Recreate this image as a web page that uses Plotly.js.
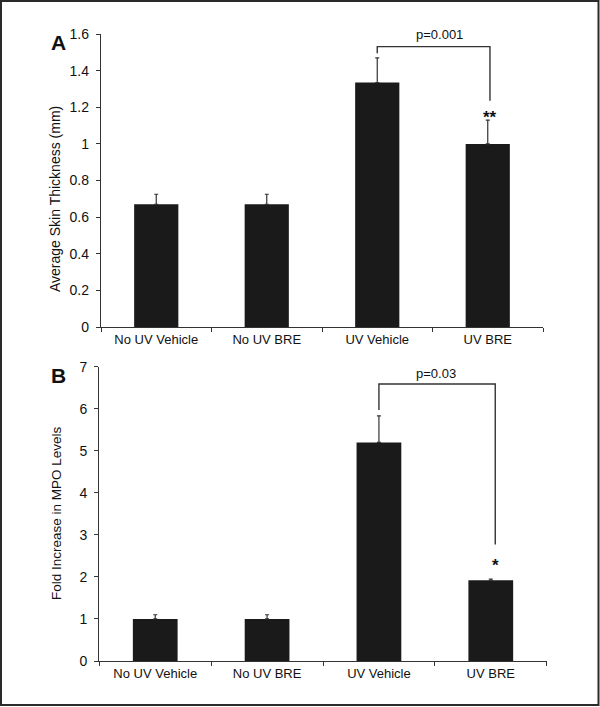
<!DOCTYPE html>
<html>
<head>
<meta charset="utf-8">
<script src="https://cdn.plot.ly/plotly-3.0.1.min.js"></script>
<style>html,body{margin:0;padding:0;background:#fff;}#chart{width:600px;height:707px;}</style>
</head>
<body>
<div id="chart"></div>
<script>
// Data
const categories = ["No UV Vehicle", "No UV BRE", "UV Vehicle", "UV BRE"];
const thicknessMeans = [0.67, 0.67, 1.335, 1.0];
const thicknessErr = [0.055, 0.055, 0.135, 0.13];
const mpoMeans = [1.0, 1.0, 5.2, 1.92];
const mpoErr = [0.1, 0.1, 0.63, 0.03];
const thicknessTicks = [0, 0.2, 0.4, 0.6, 0.8, 1, 1.2, 1.4, 1.6];
const mpoTicks = [0, 1, 2, 3, 4, 5, 6, 7];
const thicknessTitle = "Average Skin Thickness (mm)";
const mpoTitle = "Fold Increase in MPO Levels";

const W = 600, H = 707;
const px = v => v / W;
const py = v => 1 - v / H;

const FONT = "Liberation Sans, Arial, sans-serif";
const INK = "#1a1a1a";
const LINE = "#333";

function barTrace(y, err, xa, ya) {
  return {
    type: "bar", x: categories, y: y, xaxis: xa, yaxis: ya,
    width: 0.4,
    marker: {color: INK, line: {width: 0}},
    error_y: {type: "data", symmetric: false, array: err, arrayminus: err.map(() => 0),
              color: LINE, thickness: 1.2, width: 2},
    hoverinfo: "skip", showlegend: false
  };
}

const data = [
  barTrace(thicknessMeans, thicknessErr, "x", "y"),
  barTrace(mpoMeans, mpoErr, "x2", "y2")
];

function xAxis(domain, anchor) {
  return {
    domain: domain, anchor: anchor, type: "category", range: [-0.5, 3.5],
    showline: true, linecolor: LINE, linewidth: 1.2,
    ticks: "outside", tickson: "boundaries", ticklen: 4, tickcolor: LINE,
    tickfont: {family: FONT, size: 13, color: "#111"},
    showgrid: false, zeroline: false, fixedrange: true
  };
}
function yAxis(domain, anchor, range, ticks) {
  return {
    domain: domain, anchor: anchor, range: range,
    tickvals: ticks, ticktext: ticks.map(String),
    showline: true, linecolor: LINE, linewidth: 1.2,
    ticks: "outside", ticklen: 4, tickcolor: LINE,
    ticklabelstandoff: 4,
    tickfont: {family: FONT, size: 14, color: "#111"},
    showgrid: false, zeroline: false, fixedrange: true
  };
}

const layout = {
  width: W, height: H,
  margin: {l: 0, r: 0, t: 0, b: 0},
  paper_bgcolor: "#fff", plot_bgcolor: "#fff",
  font: {family: FONT, color: "#111"},
  xaxis: xAxis([px(101), px(543)], "y"),
  yaxis: yAxis([py(327), py(34)], "x", [0, 1.6], thicknessTicks),
  xaxis2: xAxis([px(99.3), px(546.7)], "y2"),
  yaxis2: yAxis([py(661), py(366.7)], "x2", [0, 7], mpoTicks),
  shapes: [
    {type: "rect", xref: "paper", yref: "paper", x0: px(1), x1: px(598.5), y0: py(705), y1: py(1),
     line: {color: "#2a2a2a", width: 2}},
    {type: "path", xref: "x", yref: "y", path: "M 2,1.495 L 2,1.531 L 3.02,1.531 L 3.02,1.236",
     line: {color: LINE, width: 1.4}},
    {type: "path", xref: "x2", yref: "y2", path: "M 2,5.97 L 2,6.59 L 3.04,6.59 L 3.04,2.77",
     line: {color: LINE, width: 1.4}}
  ],
  annotations: [
    {xref: "paper", yref: "paper", x: px(55), y: py(199), text: thicknessTitle, textangle: -90,
     showarrow: false, font: {family: FONT, size: 14, color: "#111"}, xanchor: "center", yanchor: "middle"},
    {xref: "paper", yref: "paper", x: px(56), y: py(513), text: mpoTitle, textangle: -90,
     showarrow: false, font: {family: FONT, size: 13.5, color: "#111"}, xanchor: "center", yanchor: "middle"},
    {xref: "paper", yref: "paper", x: px(58), y: py(42), text: "<b>A</b>", showarrow: false,
     font: {family: FONT, size: 21, color: "#111"}, xanchor: "center", yanchor: "middle"},
    {xref: "paper", yref: "paper", x: px(58), y: py(375), text: "<b>B</b>", showarrow: false,
     font: {family: FONT, size: 21, color: "#111"}, xanchor: "center", yanchor: "middle"},
    {xref: "x", yref: "y", x: 2.56, y: 1.595, text: "p=0.001", showarrow: false,
     font: {family: FONT, size: 13, color: "#111"}, yanchor: "middle"},
    {xref: "x", yref: "y", x: 3.02, y: 1.145, text: "<b>**</b>", showarrow: false,
     font: {family: FONT, size: 17, color: "#111"}, yanchor: "middle"},
    {xref: "x2", yref: "y2", x: 2.51, y: 6.83, text: "p=0.03", showarrow: false,
     font: {family: FONT, size: 13, color: "#111"}, yanchor: "middle"},
    {xref: "x2", yref: "y2", x: 3.04, y: 2.26, text: "<b>*</b>", showarrow: false,
     font: {family: FONT, size: 17, color: "#111"}, yanchor: "middle"}
  ]
};

Plotly.newPlot("chart", data, layout, {staticPlot: true, displayModeBar: false});
</script>
</body>
</html>
